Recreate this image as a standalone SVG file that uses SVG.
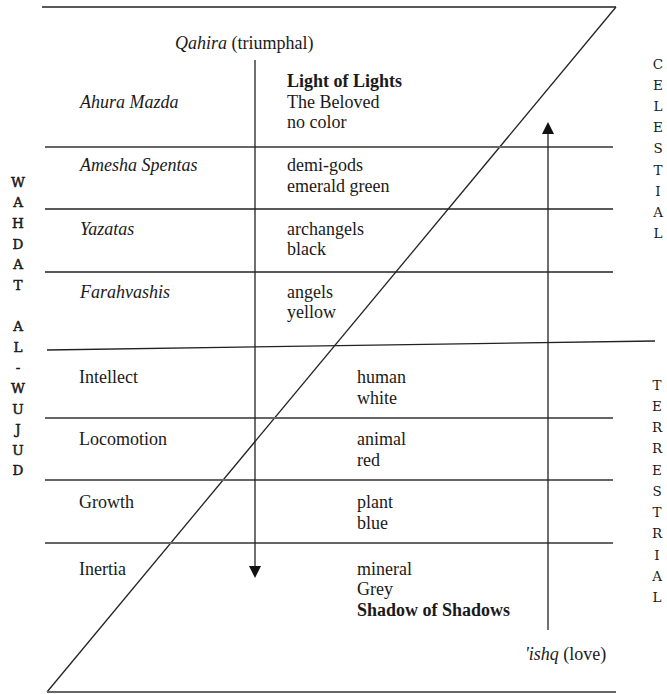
<svg xmlns="http://www.w3.org/2000/svg" width="667" height="694" viewBox="0 0 667 694">
<style>
.t{font-family:"Liberation Serif","Times New Roman",serif;font-size:18px;fill:#1a1a1a}
.i{font-style:italic}
.b{font-weight:bold}
.m{font-family:"DejaVu Serif","Liberation Serif",serif;font-size:13.5px;fill:#1a1a1a;text-anchor:middle}
.mb{stroke:#1a1a1a;stroke-width:0.5}
.dk{stroke:#222;stroke-width:1.3;fill:none}
.gr{stroke:#666;stroke-width:1.8;fill:none}
</style>
<rect width="667" height="694" fill="#fff"/>
<g id="frame">
<line class="dk" x1="42" y1="7" x2="616" y2="7"/>
<line class="dk" x1="616" y1="7" x2="47" y2="692"/>
<line class="gr" x1="47" y1="692" x2="616" y2="692"/>
<line class="dk" x1="47" y1="350" x2="655" y2="341"/>
</g>
<g id="rows">
<line class="gr" x1="45" y1="147" x2="613" y2="147"/>
<line class="dk" x1="45" y1="209" x2="613" y2="209"/>
<line class="dk" x1="45" y1="272" x2="613" y2="272"/>
<line class="gr" x1="45" y1="418" x2="613" y2="418"/>
<line class="gr" x1="45" y1="480" x2="613" y2="480"/>
<line class="gr" x1="45" y1="543" x2="613" y2="543"/>
</g>
<g id="connectors">
<line class="dk" x1="255" y1="60" x2="255" y2="568"/>
<polygon points="249,566 261,566 255,578" fill="#111"/>
<line class="dk" x1="548" y1="630" x2="548" y2="132"/>
<polygon points="542,134 554,134 548,122" fill="#111"/>
</g>
<g id="qahira"><text class="t" x="175" y="49"><tspan class="i">Qahira</tspan> (triumphal)</text></g>
<g id="ishq"><text class="t" x="525" y="660"><tspan class="i">'ishq</tspan> (love)</text></g>
<g id="ahura-mazda">
<text class="t i" x="80" y="108">Ahura Mazda</text>
<text class="t b" x="287" y="87">Light of Lights</text>
<text class="t" x="287" y="108">The Beloved</text>
<text class="t" x="287" y="128">no color</text>
</g>
<g id="amesha-spentas">
<text class="t i" x="80" y="171">Amesha Spentas</text>
<text class="t" x="287" y="171">demi-gods</text>
<text class="t" x="287" y="192">emerald green</text>
</g>
<g id="yazatas">
<text class="t i" x="80" y="235">Yazatas</text>
<text class="t" x="287" y="235">archangels</text>
<text class="t" x="287" y="255">black</text>
</g>
<g id="farahvashis">
<text class="t i" x="80" y="298">Farahvashis</text>
<text class="t" x="287" y="298">angels</text>
<text class="t" x="287" y="318">yellow</text>
</g>
<g id="intellect">
<text class="t" x="79" y="383">Intellect</text>
<text class="t" x="357" y="383">human</text>
<text class="t" x="357" y="404">white</text>
</g>
<g id="locomotion">
<text class="t" x="79" y="445">Locomotion</text>
<text class="t" x="357" y="445">animal</text>
<text class="t" x="357" y="466">red</text>
</g>
<g id="growth">
<text class="t" x="79" y="508">Growth</text>
<text class="t" x="357" y="508">plant</text>
<text class="t" x="357" y="529">blue</text>
</g>
<g id="inertia">
<text class="t" x="79" y="575">Inertia</text>
<text class="t" x="357" y="575">mineral</text>
<text class="t" x="357" y="595">Grey</text>
<text class="t b" x="357" y="616">Shadow of Shadows</text>
</g>
<g id="wahdat">
<text class="m mb" x="18" y="187">W</text>
<text class="m mb" x="18" y="207">A</text>
<text class="m mb" x="18" y="228">H</text>
<text class="m mb" x="18" y="249">D</text>
<text class="m mb" x="18" y="269">A</text>
<text class="m mb" x="18" y="290">T</text>
<text class="m mb" x="18" y="331">A</text>
<text class="m mb" x="18" y="352">L</text>
<text class="m mb" x="18" y="372">-</text>
<text class="m mb" x="18" y="393">W</text>
<text class="m mb" x="18" y="414">U</text>
<text class="m mb" x="18" y="434">J</text>
<text class="m mb" x="18" y="455">U</text>
<text class="m mb" x="18" y="475">D</text>
</g>
<g id="celestial">
<text class="m" x="658" y="69">C</text>
<text class="m" x="658" y="90">E</text>
<text class="m" x="658" y="111">L</text>
<text class="m" x="658" y="132">E</text>
<text class="m" x="658" y="153">S</text>
<text class="m" x="658" y="175">T</text>
<text class="m" x="658" y="196">I</text>
<text class="m" x="658" y="217">A</text>
<text class="m" x="658" y="238">L</text>
</g>
<g id="terrestrial">
<text class="m" x="657" y="390">T</text>
<text class="m" x="657" y="411">E</text>
<text class="m" x="657" y="432">R</text>
<text class="m" x="657" y="453">R</text>
<text class="m" x="657" y="475">E</text>
<text class="m" x="657" y="496">S</text>
<text class="m" x="657" y="517">T</text>
<text class="m" x="657" y="538">R</text>
<text class="m" x="657" y="560">I</text>
<text class="m" x="657" y="581">A</text>
<text class="m" x="657" y="602">L</text>
</g>
</svg>
